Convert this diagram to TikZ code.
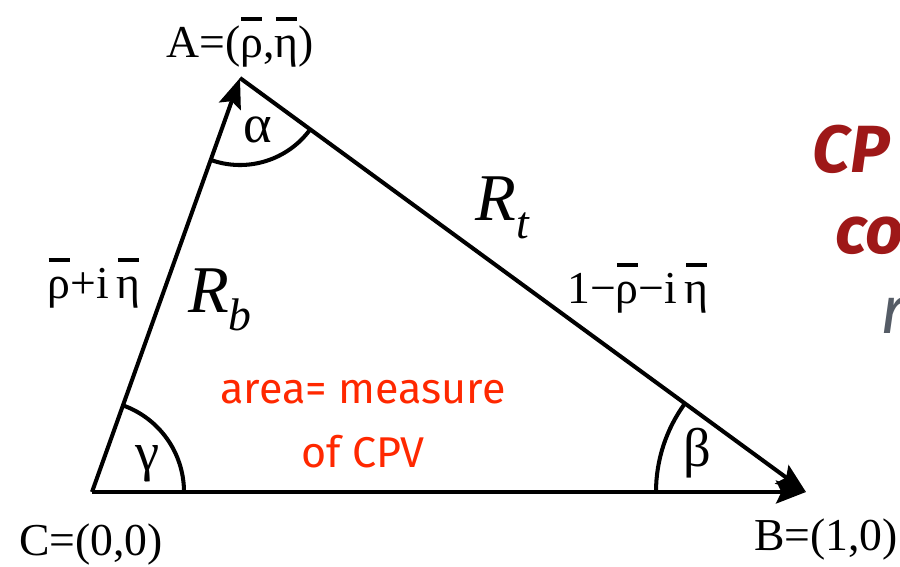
\documentclass[tikz,border=0pt]{standalone}
\usepackage{fontspec}
\setmainfont{Liberation Serif}
\newfontfamily\notefont{Fira Sans}
\newfontfamily\headfont{Fira Sans}
\usetikzlibrary{arrows.meta}
\definecolor{areared}{RGB}{255,40,0}
\definecolor{cpred}{RGB}{158,24,24}
\definecolor{greytxt}{RGB}{85,92,102}
\newsavebox\ovlbox
\newcommand\ovl[1]{\leavevmode\sbox\ovlbox{#1}\rlap{\hbox to\wd\ovlbox{\hss\rule[0.8em]{0.46em}{0.09em}\hss}}\usebox\ovlbox}
\newcommand\subsc[2]{#1\raisebox{-0.28em}{\fontsize{26}{28}\selectfont #2}}
\tikzset{
  side/.style={line width=2.3pt},
  arr/.style={side,-{Stealth[length=17pt,width=13pt,inset=3pt]}},
  anglearc/.style={line width=2.3pt},
  lab/.style={font=\fontsize{26}{30}\selectfont, inner sep=0pt},
  glab/.style={font=\fontsize{31}{34}\selectfont, inner sep=0pt},
  rlab/.style={font=\fontsize{38}{42}\selectfont\itshape, inner sep=0pt},
  note/.style={font=\notefont\fontsize{24.5}{28}\selectfont, text=areared, inner sep=0pt},
  head/.style={font=\headfont\fontsize{38}{42}\selectfont\bfseries\itshape, text=cpred, inner sep=0pt},
  headgrey/.style={font=\headfont\fontsize{38}{42}\selectfont\itshape, text=greytxt, inner sep=0pt}
}
\begin{document}
\begin{tikzpicture}[x=0.02cm,y=-0.02cm]
\useasboundingbox (0,0) rectangle (900,566);
\clip (0,0) rectangle (900,566);
\coordinate (C) at (92,492);
\coordinate (A) at (240,78);
\coordinate (B) at (806,492);
% sides
\draw[arr] (C) -- (A);
\draw[arr] (A) -- (B);
\draw[arr] (C) -- (B);
% angle arcs
\draw[anglearc] (C) ++(-70.3:92) arc[start angle=-70.3,end angle=0,radius=92];
\draw[anglearc] (A) ++(36.2:87) arc[start angle=36.2,end angle=109.7,radius=87];
\draw[anglearc] (B) ++(180:150) arc[start angle=180,end angle=216.2,radius=150];
% vertex labels
\node[lab] (lA) at (240,42) {A=(\ovl{ρ},\ovl{η})};
\node[lab] (lC) at (91,545) {C=(0,0)};
\node[lab] (lB) at (826,540) {B=(1,0)};
% side labels
\node[lab] (lCA) at (94,283) {\ovl{ρ}+i\,\ovl{η}};
\node[lab] (lAB) at (638,288) {1−\ovl{ρ}−i\,\ovl{η}};
\node[rlab] (Rb) at (220,300) {\subsc{R}{\itshape b}};
\node[rlab] (Rt) at (502,208) {\subsc{R}{\itshape t}};
% angle labels
\node[glab] (al) at (258,130) {α};
\node[glab] (ga) at (148,464) {γ};
\node[glab] (be) at (697,453) {β};
% area note
\node[note] (n1) at (363,392) {area= measure};
\node[note] (n2) at (363,452) {of CPV};
% right-side text (cut off at the edge, as in the reference)
\node[head, anchor=base west] (h1) at (812,172) {CP};
\node[head, anchor=base west] (h2) at (835,253) {co};
\node[headgrey, anchor=base west] (h3) at (880,333) {r};
\end{tikzpicture}
\end{document}
